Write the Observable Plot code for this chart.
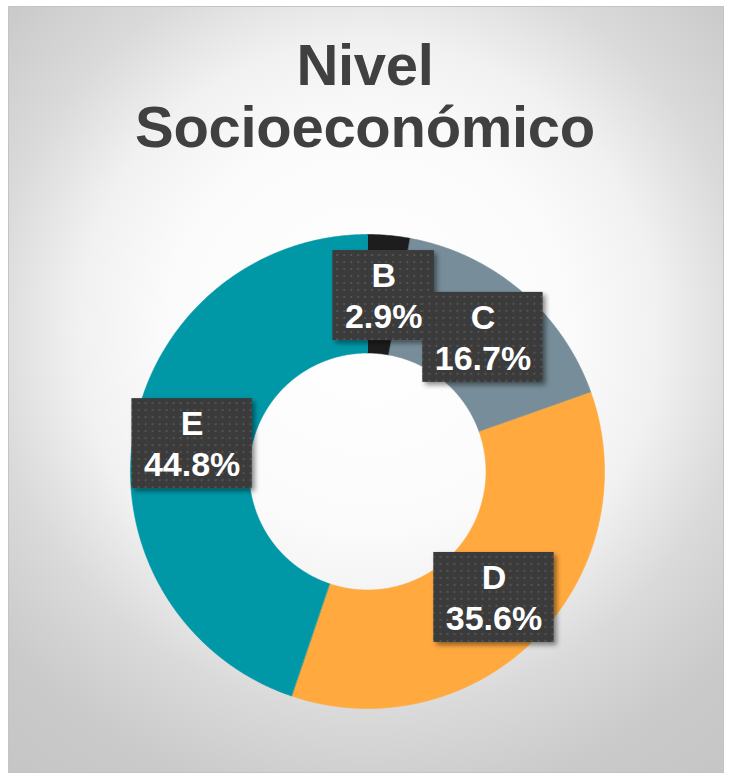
<!DOCTYPE html>
<html>
<head>
<meta charset="utf-8">
<script src="https://cdn.jsdelivr.net/npm/d3@7"></script>
<script src="https://cdn.jsdelivr.net/npm/@observablehq/plot@0.6"></script>
<style>
  html, body { margin: 0; padding: 0; background: #ffffff; width: 730px; height: 778px; overflow: hidden; }
  #frame {
    position: absolute; left: 8px; top: 6px; width: 716px; height: 767px;
    box-sizing: border-box; border: 1px solid #c4c4c4;
    background: radial-gradient(circle at 359px 324px, #ffffff 0px, #fbfbfb 200px, #f1f1f1 290px, #dadada 380px, #cacaca 480px, #c4c4c4 600px);
  }
  #title {
    position: absolute; left: 0; top: 34px; width: 730px; text-align: center;
    font-family: "Liberation Sans", Arial, sans-serif; font-weight: bold;
    font-size: 58px; line-height: 62px; color: #404040; letter-spacing: -0.3px;
  }
  #chart { position: absolute; left: 0; top: 200px; }
</style>
</head>
<body>
<div id="frame"></div>
<div id="title">Nivel<br>Socioeconómico</div>
<div id="chart"></div>
<script>
// ---- data ----
const categories = ["B", "C", "D", "E"];
const shares = [2.9, 16.7, 35.6, 44.8];
const colors = ["#1d1d1d", "#778e9a", "#ffa93f", "#0097a7"];

// ---- geometry derived from the data (angles clockwise from 12 o'clock) ----
const inner = 0.5, outer = 1, labelR = 0.75;
const total = d3.sum(shares);
let acc = 0;
const slices = categories.map((c, i) => {
  const a0 = acc / total * 2 * Math.PI;
  acc += shares[i];
  const a1 = acc / total * 2 * Math.PI;
  return {cat: c, share: shares[i], a0, a1, mid: (a0 + a1) / 2};
});
const outline = [];
for (const s of slices) {
  const n = Math.max(4, Math.ceil((s.a1 - s.a0) / (Math.PI / 360)));
  for (let k = 0; k <= n; k++) {
    const a = s.a0 + (s.a1 - s.a0) * k / n;
    outline.push({cat: s.cat, x: outer * Math.sin(a), y: outer * Math.cos(a)});
  }
  for (let k = n; k >= 0; k--) {
    const a = s.a0 + (s.a1 - s.a0) * k / n;
    outline.push({cat: s.cat, x: inner * Math.sin(a), y: inner * Math.cos(a)});
  }
}
const labels = slices.map(s => ({
  cat: s.cat,
  x: labelR * Math.sin(s.mid),
  y: labelR * Math.cos(s.mid),
  text: s.cat + "\n" + s.share.toFixed(1) + "%"
}));

const plot = Plot.plot({
  width: 730,
  height: 540,
  x: {domain: [-1, 1], range: [130, 604], axis: null},
  y: {domain: [-1, 1], range: [508, 34], axis: null},
  color: {domain: categories, range: colors},
  style: {background: "transparent", overflow: "visible"},
  marks: [
    Plot.line(outline, {x: "x", y: "y", z: "cat", fill: "cat", stroke: "cat", strokeWidth: 0.6, curve: "linear-closed"}),
    Plot.text(labels, {
      x: "x", y: "y", text: "text", fill: "white",
      fontSize: 34, fontWeight: "bold", fontFamily: "Liberation Sans, Arial, sans-serif",
      lineHeight: 1.2, className: "lbl"
    })
  ]
});
document.getElementById("chart").appendChild(plot);

// ---- label boxes (dark dotted rectangles with shadow) ----
const svg = d3.select(plot);
const defs = svg.insert("defs", ":first-child");
const pat = defs.append("pattern").attr("id", "dots").attr("patternUnits", "userSpaceOnUse")
  .attr("width", 7).attr("height", 7);
pat.append("rect").attr("width", 7).attr("height", 7).attr("fill", "#3b3b3b");
pat.append("rect").attr("x", 2).attr("y", 2).attr("width", 2).attr("height", 2).attr("fill", "#525252");
const flt = defs.append("filter").attr("id", "shadow").attr("x", "-20%").attr("y", "-20%").attr("width", "150%").attr("height", "150%");
flt.append("feDropShadow").attr("dx", 3).attr("dy", 3).attr("stdDeviation", 2.5)
  .attr("flood-color", "#000").attr("flood-opacity", 0.45);

const textGroup = plot.querySelector("g.lbl") || plot.querySelector("g[aria-label='text']");
const boxes = svg.insert("g", () => textGroup);
textGroup.querySelectorAll("text").forEach(t => {
  const b = t.getBBox();
  const w = b.width + 24, h = 90;
  const cx = b.x + b.width / 2, cy = b.y + b.height / 2;
  const r = boxes.append("rect")
    .attr("x", cx - w / 2).attr("y", cy - h / 2)
    .attr("width", w).attr("height", h)
    .attr("fill", "url(#dots)").attr("filter", "url(#shadow)");
  const tr = t.getAttribute("transform");
  if (tr) r.attr("transform", tr);
});
</script>
</body>
</html>
